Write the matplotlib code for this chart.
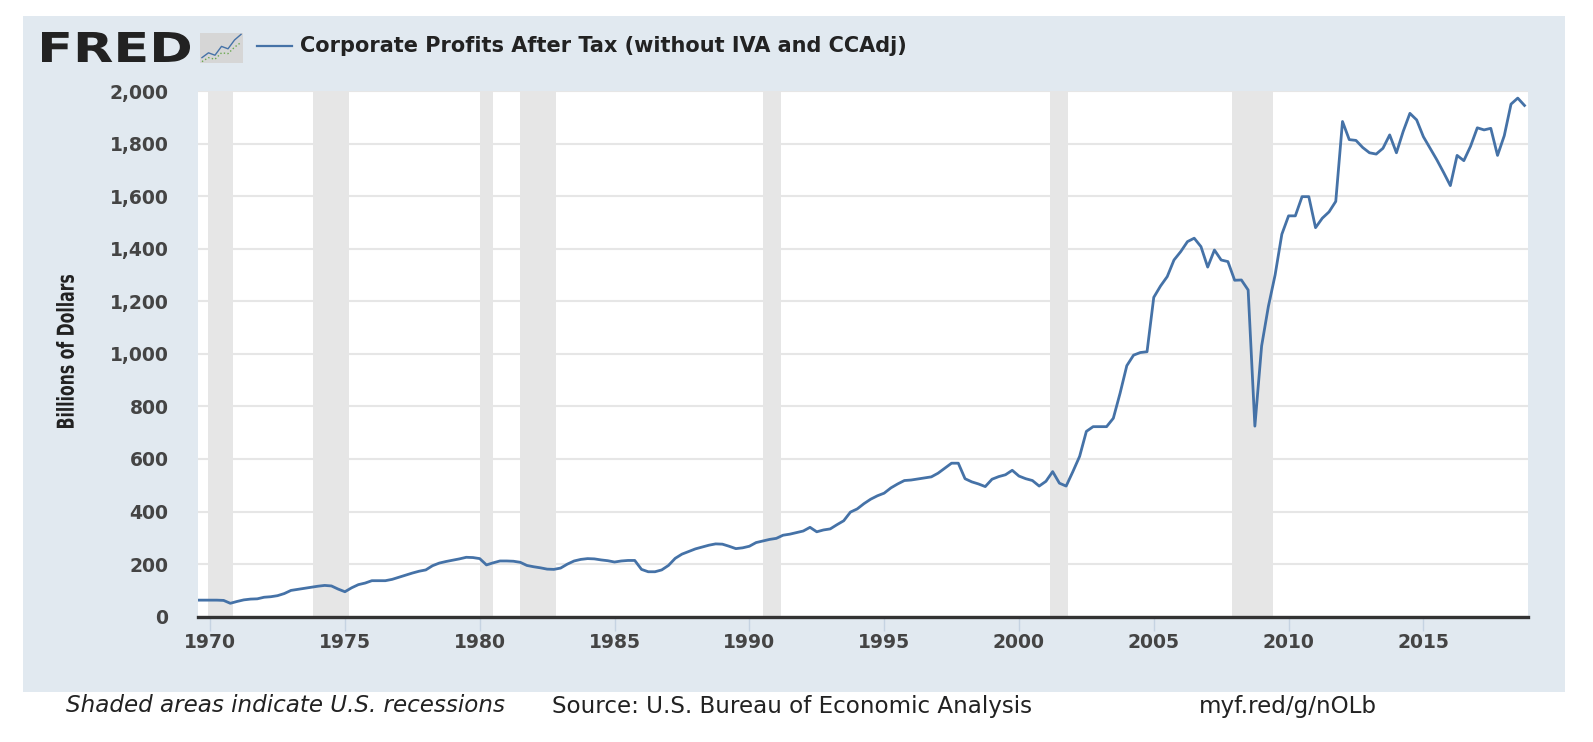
import matplotlib
matplotlib.use('Agg')
import matplotlib.pyplot as plt
import numpy as np
from matplotlib.textpath import TextPath
from matplotlib.font_manager import FontProperties
from matplotlib.patches import PathPatch, Rectangle
from matplotlib.transforms import Affine2D

# Corporate Profits After Tax (without IVA and CCAdj), billions of dollars, quarterly from 1969 Q3
start_year = 1969.5
profits = [
    63, 63,                    # 1969 Q3-Q4
    63, 63, 62, 51,            # 1970
    58, 64, 67, 68,            # 1971
    74, 76, 80, 88,            # 1972
    100, 104, 108, 112,        # 1973
    116, 119, 117, 105,        # 1974
    95, 110, 122, 128,         # 1975
    137, 137, 137, 142,        # 1976
    150, 158, 166, 173,        # 1977
    178, 194, 204, 210,        # 1978
    215, 220, 226, 225,        # 1979
    221, 197, 205, 212,        # 1980
    212, 211, 207, 195,        # 1981
    190, 186, 181, 180,        # 1982
    185, 200, 212, 218,        # 1983
    221, 220, 216, 213,        # 1984
    208, 212, 214, 214,        # 1985
    180, 171, 171, 178,        # 1986
    195, 222, 238, 248,        # 1987
    258, 265, 272, 277,        # 1988
    276, 268, 259, 262,        # 1989
    268, 282, 288, 294,        # 1990
    298, 310, 314, 320,        # 1991
    326, 340, 323, 330,        # 1992
    334, 350, 365, 398,        # 1993
    410, 430, 447, 460,        # 1994
    470, 490, 505, 518,        # 1995
    520, 524, 528, 532,        # 1996
    546, 565, 584, 584,        # 1997
    525, 513, 505, 495,        # 1998
    523, 533, 540, 557,        # 1999
    535, 525, 518, 497,        # 2000
    515, 552, 508, 497,        # 2001
    552, 610, 705, 723,        # 2002
    723, 723, 755, 850,        # 2003
    955, 995, 1005, 1008,      # 2004
    1215, 1258, 1294, 1357,    # 2005
    1389, 1427, 1440, 1408,    # 2006
    1330, 1395, 1357, 1351,    # 2007
    1280, 1281, 1243, 725,     # 2008
    1030, 1180, 1300, 1455,    # 2009
    1525, 1525, 1598, 1598,    # 2010
    1480, 1516, 1540, 1580,    # 2011
    1884, 1815, 1812, 1785,    # 2012
    1765, 1760, 1782, 1833,    # 2013
    1765, 1846, 1915, 1890,    # 2014
    1826, 1782, 1738, 1690,    # 2015
    1640, 1755, 1735, 1790,    # 2016
    1860, 1852, 1858, 1755,    # 2017
    1830, 1950, 1973, 1945,    # 2018
]

recessions = [(1969.917, 1970.833), (1973.833, 1975.167), (1980.0, 1980.5),
              (1981.5, 1982.833), (1990.5, 1991.167), (2001.167, 2001.833),
              (2007.917, 2009.417)]

y_ticks = [0, 200, 400, 600, 800, 1000, 1200, 1400, 1600, 1800, 2000]
x_ticks = [1970, 1975, 1980, 1985, 1990, 1995, 2000, 2005, 2010, 2015]

title = 'Corporate Profits After Tax (without IVA and CCAdj)'
ylabel = 'Billions of Dollars'
footer_left = 'Shaded areas indicate U.S. recessions'
footer_mid = 'Source: U.S. Bureau of Economic Analysis'
footer_right = 'myf.red/g/nOLb'

icon_blue = [1.0, 1.6, 1.3, 2.4, 2.1, 3.2, 3.9]
icon_green = [0.5, 1.0, 0.8, 1.6, 1.5, 2.3, 2.9]

W, H = 1593, 742
line_color = '#4572a7'
dates = start_year + np.arange(len(profits)) / 4.0
bold = FontProperties(family='DejaVu Sans', weight='bold')

fig = plt.figure(figsize=(W / 100, H / 100), dpi=100)
fig.patch.set_facecolor('white')

# background layer in pixel coordinates (y down)
bg = fig.add_axes([0, 0, 1, 1], zorder=0)
bg.set_xlim(0, W)
bg.set_ylim(H, 0)
bg.axis('off')
bg.add_patch(Rectangle((23, 16), 1542, 676, facecolor='#e1e9f0', edgecolor='none'))

# FRED wordmark, squeezed into its box
tp = TextPath((0, 0), 'FRED', size=1, prop=bold)
bb = tp.get_extents()
tr = Affine2D().translate(-bb.x0, -bb.y0).scale(148 / bb.width, -30 / bb.height).translate(42, 62)
bg.add_patch(PathPatch(tr.transform_path(tp), facecolor='#222222', edgecolor='none'))

bg.plot([257, 292], [46, 46], color=line_color, lw=1.6)
bg.text(300, 46, title, va='center', ha='left', fontsize=15, fontweight='bold', color='#222222')

bg.text(66, 706, footer_left, va='center', ha='left', fontsize=16.6, style='italic', color='#222222')
bg.text(552, 706, footer_mid, va='center', ha='left', fontsize=16.6, color='#222222')
bg.text(1199, 706, footer_right, va='center', ha='left', fontsize=16.6, color='#222222')

# condensed vertical axis title, drawn as a path so it can be narrowed
lp = TextPath((0, 0), ylabel, size=1, prop=bold)
lb = lp.get_extents()
sx, sy = 153 / lb.width, 18 / lb.height
rot = Affine2D(np.array([[0, -sy, 74], [-sx, 0, 428], [0, 0, 1]]))
ltr = Affine2D().translate(-lb.x0, -lb.y0) + rot
bg.add_patch(PathPatch(ltr.transform_path(lp), facecolor='#222222', edgecolor='none'))

# little chart icon next to the logo
icon = fig.add_axes([200 / W, 1 - 63 / H, 43 / W, 30 / H], zorder=1)
icon.set_facecolor('#d6d6d6')
icon.plot(icon_blue, color=line_color, lw=1)
icon.plot(icon_green, color='#6aa84f', lw=1, ls=':')
icon.set_xticks([])
icon.set_yticks([])
for s in icon.spines.values():
    s.set_visible(False)

# main chart
ax = fig.add_axes([197.7 / W, 1 - 616.7 / H, (1528 - 197.7) / W, (616.7 - 91) / H], zorder=2)
ax.set_facecolor('white')
ax.set_axisbelow(True)
ax.grid(axis='y', color='#e6e6e6', lw=1.5)
for a, b in recessions:
    ax.axvspan(a, b, color='#e6e6e6', lw=0, zorder=1)
ax.plot(dates, profits, color=line_color, lw=2.0, zorder=3)

ax.set_xlim(1969.54, 2018.88)
ax.set_ylim(0, 2000)
ax.set_yticks(y_ticks, labels=[f'{v:,}' for v in y_ticks], fontweight='bold')
ax.set_xticks(x_ticks, labels=[str(v) for v in x_ticks], fontweight='bold')
ax.tick_params(axis='y', length=0, pad=21, labelsize=13.5, labelcolor='#444444')
ax.tick_params(axis='x', length=10, width=1, color='#c5d3e2', pad=2, labelsize=13.5, labelcolor='#444444')

for side in ['top', 'right', 'left']:
    ax.spines[side].set_visible(False)
ax.spines['bottom'].set_color('#333333')
ax.spines['bottom'].set_linewidth(2.4)
ax.spines['bottom'].set_zorder(4)

fig.savefig('out.png', dpi=100)
